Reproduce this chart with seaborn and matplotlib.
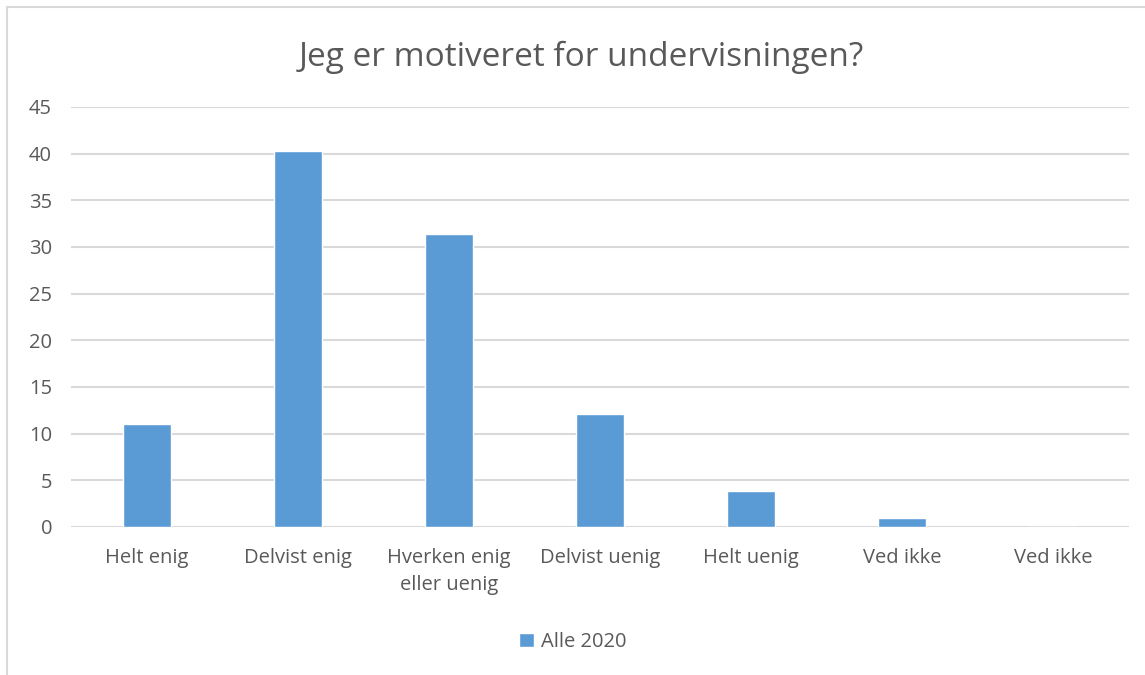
import pandas as pd
import seaborn as sns
import matplotlib.pyplot as plt
from matplotlib.patches import Rectangle

# Data
kategorier = ["Helt enig", "Delvist enig", "Hverken enig\neller uenig", "Delvist uenig",
              "Helt uenig", "Ved ikke", "Ved ikke"]
verdier = [11.0, 40.3, 31.4, 12.1, 3.9, 1.0, 0.0]
serie_navn = "Alle 2020"

df = pd.DataFrame({"pos": range(len(kategorier)), "verdi": verdier})

sns.set_style("white")
plt.rcParams['font.family'] = ['Open Sans', 'DejaVu Sans']
tekst_farge = "#595959"
grid_farge = "#d9d9d9"
fs = 14.5

fig = plt.figure(figsize=(11.45, 6.75), dpi=100)
ax = fig.add_axes([0.0624, 0.2193, 0.9232, 0.6222])

sns.barplot(data=df, x="pos", y="verdi", color="#5b9bd5", saturation=1,
            width=0.32, label=serie_navn, ax=ax, zorder=3)

ax.set_ylim(0, 45)
ax.set_yticks(range(0, 46, 5))
ax.set_xlim(-0.5, len(kategorier) - 0.5)
ax.set_xticks(range(len(kategorier)))
ax.set_xticklabels(kategorier, fontsize=fs, color=tekst_farge, linespacing=1.45)
ax.tick_params(axis='y', labelsize=fs, labelcolor=tekst_farge, length=0, pad=14)
ax.tick_params(axis='x', length=0, pad=15)
ax.yaxis.grid(True, color=grid_farge, linewidth=1.5, zorder=0)
ax.set_axisbelow(True)
for side in ["top", "right", "left", "bottom"]:
    ax.spines[side].set_visible(False)
ax.set_xlabel("")
ax.set_ylabel("")

fig.suptitle("Jeg er motiveret for undervisningen?", x=0.508, y=0.94,
             fontsize=24, color=tekst_farge)

leg = ax.legend(loc='center', frameon=False, fontsize=fs, handlelength=0.75,
                handleheight=0.75, handletextpad=0.35)
leg.set_bbox_to_anchor((0.5, 1 - 642 / 675), transform=fig.transFigure)
for t in leg.get_texts():
    t.set_color(tekst_farge)

# light frame round the chart area
fig.patches.append(Rectangle((7 / 1145, -0.1), 1.2, 1.1 - 7 / 675, transform=fig.transFigure,
                             fill=False, edgecolor=grid_farge, linewidth=1.5))

plt.savefig("out.png", dpi=100)
plt.close()
